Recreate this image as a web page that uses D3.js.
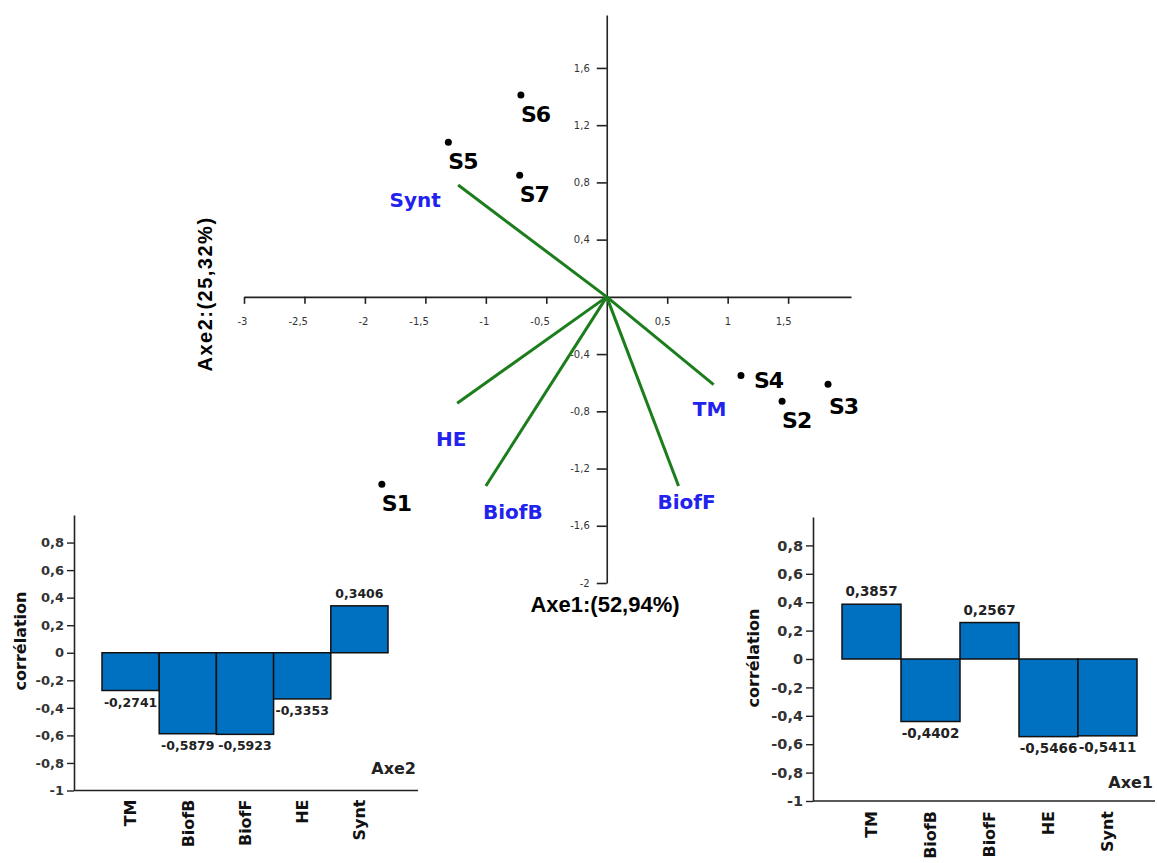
<!DOCTYPE html>
<html>
<head>
<meta charset="utf-8">
<script src="https://cdn.jsdelivr.net/npm/d3@7"></script>
<style>
  body { margin: 0; background: #fff; }
  svg { display: block; font-family: 'DejaVu Sans', sans-serif; }
</style>
</head>
<body>
<svg id="chart" width="1157" height="863"></svg>
<script>
// sites (individuals) on the factorial plane
const sites = ['S1', 'S2', 'S3', 'S4', 'S5', 'S6', 'S7']
const siteX = [-1.86, 1.45, 1.83, 1.11, -1.31, -0.71, -0.72]
const siteY = [-1.31, -0.73, -0.61, -0.55, 1.08, 1.41, 0.85]

// variables (arrows)
const variables = ['TM', 'BiofB', 'BiofF', 'HE', 'Synt']
const varX = [0.884, -1.0, 0.594, -1.237, -1.229]
const varY = [-0.614, -1.322, -1.322, -0.743, 0.782]

// correlations with each axis
const corrAxe2 = [-0.2741, -0.5879, -0.5923, -0.3353, 0.3406]
const corrAxe1 = [0.3857, -0.4402, 0.2567, -0.5466, -0.5411]

const xTicks = [-3, -2.5, -2, -1.5, -1, -0.5, 0.5, 1, 1.5]
const yTicks = [-2, -1.6, -1.2, -0.8, -0.4, 0.4, 0.8, 1.2, 1.6]
const barTicks = [-1, -0.8, -0.6, -0.4, -0.2, 0, 0.2, 0.4, 0.6, 0.8]

const xTitle = 'Axe1:(52,94%)'
const yTitle = 'Axe2:(25,32%)'

// label placement (style only)
const siteLabelOffset = { S4: [13, 12], S3: [1, 30] }
const varLabelOffset = {
  TM: [-4, 31],
  BiofB: [27, 33],
  BiofF: [8, 23],
  HE: [-6, 43],
  Synt: [-43, 22],
}

const comma = (d) => String(d).replace('.', ',')

const svg = d3.select('#chart')
svg.append('rect').attr('width', 1157).attr('height', 863).attr('fill', '#fff')

// ---------- biplot ----------
const x = d3.scaleLinear().domain([-3, 2.02]).range([244, 851])
const y = d3.scaleLinear().domain([-2, 1.97]).range([583, 15])

const gx = svg
  .append('g')
  .attr('transform', `translate(0,${y(0)})`)
  .call(d3.axisBottom(x).tickValues(xTicks).tickSize(7).tickSizeOuter(0).tickPadding(14).tickFormat(comma))
gx.attr('font-family', null).attr('font-size', 10)
gx.select('.domain').attr('stroke', '#222').attr('stroke-width', 1.6)
gx.selectAll('.tick line').attr('stroke', '#222').attr('stroke-width', 1.6)
gx.selectAll('.tick text').attr('text-anchor', 'end').attr('dx', 3).attr('fill', '#333')

const gy = svg
  .append('g')
  .attr('transform', `translate(${x(0)},0)`)
  .call(d3.axisLeft(y).tickValues(yTicks).tickSize(10).tickSizeOuter(0).tickPadding(7).tickFormat(comma))
gy.attr('font-family', null).attr('font-size', 10)
gy.select('.domain').attr('stroke', '#222').attr('stroke-width', 1.6)
gy.selectAll('.tick line').attr('stroke', '#222').attr('stroke-width', 1.6)
gy.selectAll('.tick text').attr('fill', '#333')

// arrows
const vars = variables.map((name, i) => ({ name, vx: varX[i], vy: varY[i] }))
svg
  .append('g')
  .selectAll('line')
  .data(vars)
  .join('line')
  .attr('x1', x(0))
  .attr('y1', y(0))
  .attr('x2', (d) => x(d.vx))
  .attr('y2', (d) => y(d.vy))
  .attr('stroke', '#1b7d1b')
  .attr('stroke-width', 3)

svg
  .append('g')
  .selectAll('text')
  .data(vars)
  .join('text')
  .attr('x', (d) => x(d.vx) + varLabelOffset[d.name][0])
  .attr('y', (d) => y(d.vy) + varLabelOffset[d.name][1])
  .attr('text-anchor', 'middle')
  .attr('font-weight', 'bold')
  .attr('font-size', 20)
  .attr('fill', '#2222ee')
  .text((d) => d.name)

// sites
const pts = sites.map((name, i) => ({ name, sx: siteX[i], sy: siteY[i] }))
svg
  .append('g')
  .selectAll('circle')
  .data(pts)
  .join('circle')
  .attr('cx', (d) => x(d.sx))
  .attr('cy', (d) => y(d.sy))
  .attr('r', 3.5)
  .attr('fill', '#000')

svg
  .append('g')
  .selectAll('text')
  .data(pts)
  .join('text')
  .attr('x', (d) => x(d.sx) + (siteLabelOffset[d.name] || [0, 27])[0])
  .attr('y', (d) => y(d.sy) + (siteLabelOffset[d.name] || [0, 27])[1])
  .attr('font-weight', 'bold')
  .attr('font-size', 22)
  .attr('letter-spacing', -1)
  .attr('fill', '#000')
  .text((d) => d.name)

// axis titles
svg
  .append('text')
  .attr('x', 605)
  .attr('y', 612)
  .attr('text-anchor', 'middle')
  .attr('font-family', "'Liberation Sans', Arial, sans-serif")
  .attr('font-weight', 'bold')
  .attr('font-size', 22)
  .text(xTitle)

svg
  .append('text')
  .attr('transform', 'translate(205,294) rotate(-90)')
  .attr('dy', '0.35em')
  .attr('text-anchor', 'middle')
  .attr('font-family', "'Liberation Sans', Arial, sans-serif")
  .attr('font-weight', 'bold')
  .attr('font-size', 20)
  .attr('letter-spacing', 1.5)
  .text(yTitle)

// ---------- correlation bar charts ----------
function drawCorr(values, opt) {
  const g = svg.append('g')
  const bx = d3.scaleBand().domain(variables).range(opt.xRange).padding(0)
  const by = d3.scaleLinear().domain([-1, 1]).range(opt.yRange)
  const data = variables.map((name, i) => ({ name, value: values[i] }))

  const ax = g
    .append('g')
    .attr('transform', `translate(${opt.xRange[0] - opt.gap},0)`)
    .call(d3.axisLeft(by).tickValues(barTicks).tickSize(7).tickSizeOuter(0).tickPadding(3).tickFormat(comma))
  ax.attr('font-family', null).attr('font-size', opt.tickFont)
  ax.select('.domain').attr('stroke', '#222').attr('stroke-width', 1.6)
  ax.selectAll('.tick line').attr('stroke', '#222').attr('stroke-width', 1.4)
  ax.selectAll('.tick text').attr('fill', '#333').attr('font-weight', 'bold')

  // bottom line
  g.append('line')
    .attr('x1', opt.xRange[0] - opt.gap)
    .attr('x2', opt.right)
    .attr('y1', by(-1))
    .attr('y2', by(-1))
    .attr('stroke', '#222')
    .attr('stroke-width', 1.6)

  g.append('g')
    .selectAll('rect')
    .data(data)
    .join('rect')
    .attr('x', (d) => bx(d.name))
    .attr('y', (d) => Math.min(by(d.value), by(0)))
    .attr('width', bx.bandwidth())
    .attr('height', (d) => Math.abs(by(d.value) - by(0)))
    .attr('fill', '#0070c0')
    .attr('stroke', '#111')
    .attr('stroke-width', 1.5)

  g.append('g')
    .selectAll('text')
    .data(data)
    .join('text')
    .attr('x', (d) => bx(d.name) + bx.bandwidth() / 2)
    .attr('y', (d) => (d.value >= 0 ? by(d.value) - 8 : by(d.value) + 16))
    .attr('text-anchor', 'middle')
    .attr('font-weight', 'bold')
    .attr('font-size', opt.valFont)
    .attr('fill', '#222')
    .text((d) => d.value.toFixed(4).replace('.', ','))

  g.append('g')
    .selectAll('text')
    .data(variables)
    .join('text')
    .attr('transform', (d) => `translate(${bx(d) + bx.bandwidth() / 2},${by(-1) + opt.catGap}) rotate(-90)`)
    .attr('dy', '0.36em')
    .attr('text-anchor', 'end')
    .attr('font-weight', 'bold')
    .attr('font-size', 16)
    .attr('fill', '#111')
    .text((d) => d)

  g.append('text')
    .attr('transform', `translate(${opt.ylabX},${opt.ylabY}) rotate(-90)`)
    .attr('dy', '0.35em')
    .attr('text-anchor', 'middle')
    .attr('font-weight', 'bold')
    .attr('font-size', 16)
    .attr('fill', '#111')
    .text('corrélation')

  g.append('text')
    .attr('x', opt.right - 2)
    .attr('y', opt.titleY)
    .attr('text-anchor', 'end')
    .attr('font-weight', 'bold')
    .attr('font-size', 16)
    .attr('fill', '#222')
    .text(opt.title)
}

drawCorr(corrAxe2, {
  xRange: [102, 388],
  yRange: [790.5, 515],
  gap: 28,
  right: 418,
  tickFont: 13,
  valFont: 12.5,
  catGap: 9,
  ylabX: 20,
  ylabY: 641,
  titleY: 774,
  title: 'Axe2',
})

drawCorr(corrAxe1, {
  xRange: [842, 1137],
  yRange: [801, 517],
  gap: 29,
  right: 1155,
  tickFont: 14.5,
  valFont: 13.5,
  catGap: 10,
  ylabX: 753,
  ylabY: 658,
  titleY: 788,
  title: 'Axe1',
})
</script>
</body>
</html>
